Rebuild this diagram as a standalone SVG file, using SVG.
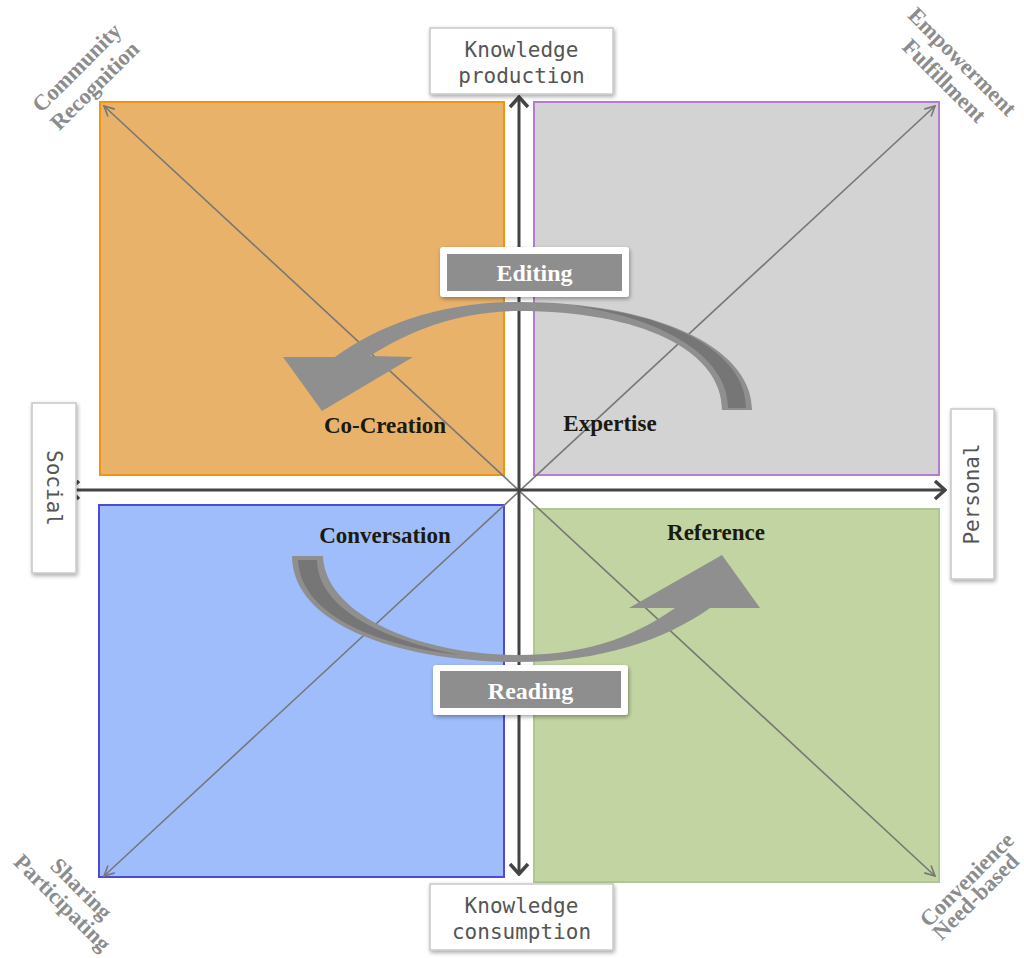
<svg xmlns="http://www.w3.org/2000/svg" width="1024" height="958" viewBox="0 0 1024 958">
<defs>
<style>
.mono{font-family:"DejaVu Sans Mono","Liberation Mono",monospace;font-size:21px;fill:#555;text-anchor:middle}
.lbl{font-family:"Liberation Serif","DejaVu Serif",serif;font-weight:bold;font-size:23px;fill:#1a1a10;text-anchor:middle}
.corner{font-family:"Liberation Serif","DejaVu Serif",serif;font-weight:bold;font-size:22.5px;fill:#8c8c8c;text-anchor:middle}
.btn{font-family:"Liberation Serif","DejaVu Serif",serif;font-weight:bold;font-size:24px;fill:#fff;text-anchor:middle}
.box{fill:#fff;stroke:#c8c8c8;stroke-width:1.5}
.axis{stroke:#444;stroke-width:3;fill:none}
.diag{stroke:#777;stroke-width:1.6;fill:none}
</style>
<marker id="ax" viewBox="0 0 14 22" refX="12" refY="11" markerWidth="14" markerHeight="22" orient="auto-start-reverse" markerUnits="userSpaceOnUse">
<path d="M2 2 L12 11 L2 20" fill="none" stroke="#444" stroke-width="3.5" stroke-linejoin="miter"/>
</marker>
<marker id="dg" viewBox="0 0 12 12" refX="11" refY="6" markerWidth="12" markerHeight="12" orient="auto-start-reverse" markerUnits="userSpaceOnUse">
<path d="M1 1 L11 6 L1 11" fill="none" stroke="#777" stroke-width="1.6"/>
</marker>
<filter id="sh" x="-10%" y="-20%" width="120%" height="150%">
<feGaussianBlur in="SourceAlpha" stdDeviation="2"/>
<feOffset dx="1" dy="2" result="b"/>
<feComponentTransfer><feFuncA type="linear" slope="0.35"/></feComponentTransfer>
<feMerge><feMergeNode/><feMergeNode in="SourceGraphic"/></feMerge>
</filter>
</defs>
<rect width="1024" height="958" fill="#fff"/>

<g id="quad-cocreation"><rect x="100" y="102" width="404" height="373" fill="#E8B26A" stroke="#F0950E" stroke-width="2"/></g>
<g id="quad-expertise"><rect x="534" y="102" width="405" height="373" fill="#D3D3D3" stroke="#B57CD0" stroke-width="2"/></g>
<g id="quad-conversation"><rect x="99" y="505" width="405" height="372" fill="#A0BDFB" stroke="#4B4BD6" stroke-width="2"/></g>
<g id="quad-reference"><rect x="534" y="509" width="405" height="373" fill="#C1D4A1" stroke="#AFC792" stroke-width="2"/></g>

<g id="connectors">
<line class="diag" x1="104" y1="106" x2="935" y2="876" marker-start="url(#dg)" marker-end="url(#dg)"/>
<line class="diag" x1="935" y1="106" x2="104" y2="876" marker-start="url(#dg)" marker-end="url(#dg)"/>
<line class="axis" x1="519" y1="97" x2="519" y2="874" marker-start="url(#ax)" marker-end="url(#ax)"/>
<line class="axis" x1="69" y1="490" x2="945" y2="490" marker-start="url(#ax)" marker-end="url(#ax)"/>
</g>

<g id="arrow-editing">
<path d="M752 410 C752 345 650 302 519 302 C440 302 380 325 335 357 L283 357 L322 411 L413 357 L370 356 C410 330 460 311 519 311 C640 311 722 350 722 410 Z" fill="#8F8F8F"/>
<path d="M746 408 C746 352 670 314 575 306 C660 318 728 355 728 408 Z" fill="#767676"/>
</g>
<g id="arrow-reading">
<path d="M292 556 C292 625 400 662 519 662 C600 662 665 640 710 608 L760 608 L722 555 L629 608 L675 608 C630 640 580 655 519 655 C420 655 325 615 323 556 Z" fill="#8F8F8F"/>
<path d="M298 560 C300 612 370 645 460 655 C385 640 318 610 317 560 Z" fill="#767676"/>
</g>

<g id="editing">
<rect x="440" y="247" width="189" height="50" rx="3" fill="#fff" filter="url(#sh)"/>
<rect x="447" y="254" width="175" height="37" fill="#8E8E8E"/>
<text class="btn" x="534.5" y="281">Editing</text>
</g>
<g id="reading">
<rect x="433" y="665" width="195" height="50" rx="3" fill="#fff" filter="url(#sh)"/>
<rect x="440" y="671" width="181" height="37" fill="#8E8E8E"/>
<text class="btn" x="530.5" y="699">Reading</text>
</g>

<g id="knowledge-production">
<rect class="box" x="430" y="28" width="183" height="66" filter="url(#sh)"/>
<text class="mono" x="521.5" y="57">Knowledge</text>
<text class="mono" x="521.5" y="83">production</text>
</g>
<g id="knowledge-consumption">
<rect class="box" x="430" y="884" width="183" height="66" filter="url(#sh)"/>
<text class="mono" x="521.5" y="913">Knowledge</text>
<text class="mono" x="521.5" y="939">consumption</text>
</g>
<g id="social">
<rect class="box" x="32" y="403" width="44" height="170" filter="url(#sh)"/>
<text class="mono" transform="translate(54 488) rotate(90)" x="0" y="7">Social</text>
</g>
<g id="personal">
<rect class="box" x="951" y="409" width="43" height="170" filter="url(#sh)"/>
<text class="mono" transform="translate(972 494) rotate(-90)" x="0" y="7">Personal</text>
</g>

<g id="labels">
<text class="lbl" x="385" y="433">Co-Creation</text>
<text class="lbl" x="610" y="431">Expertise</text>
<text class="lbl" x="385" y="543">Conversation</text>
<text class="lbl" x="716" y="540">Reference</text>
</g>

<g id="corners">
<text class="corner" transform="translate(77 68) rotate(-45)" y="7">Community</text>
<text class="corner" transform="translate(95 86) rotate(-45)" y="7">Recognition</text>
<text class="corner" transform="translate(962 62) rotate(45)" y="7">Empowerment</text>
<text class="corner" transform="translate(944 81) rotate(45)" y="7">Fulfillment</text>
<text class="corner" transform="translate(81 889) rotate(45)" y="7">Sharing</text>
<text class="corner" transform="translate(62 903) rotate(45)" y="7">Participating</text>
<text class="corner" transform="translate(967 880) rotate(-45)" y="7">Convenience</text>
<text class="corner" transform="translate(976 897) rotate(-45)" y="7">Need-based</text>
</g>
</svg>
